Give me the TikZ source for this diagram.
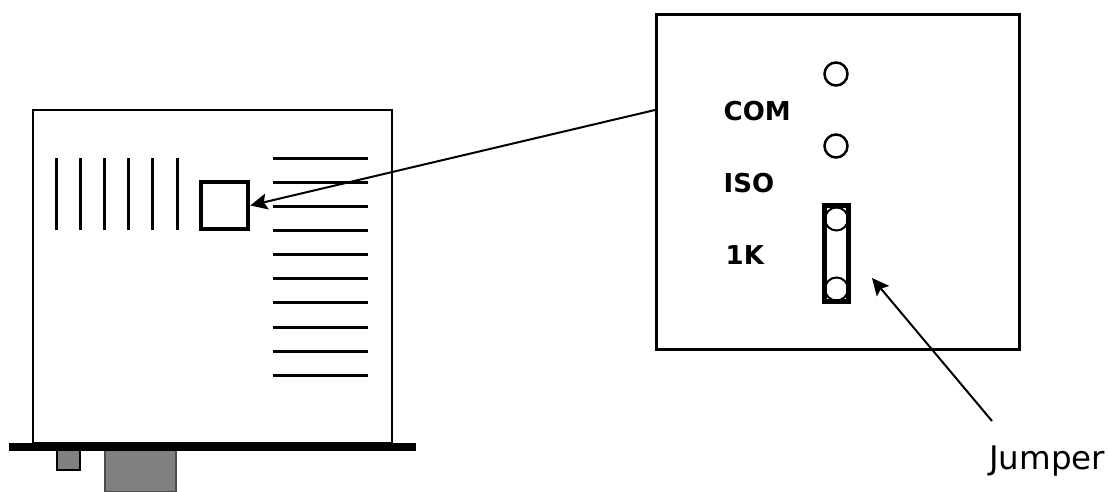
\documentclass[tikz,border=0pt]{standalone}
\usepackage{fontspec}
\setmainfont{DejaVu Sans}
\usetikzlibrary{arrows.meta}
\tikzset{
	box/.style={draw, line width=3pt, inner sep=0pt, minimum width=#1},
	part/.style={draw=black!70, line width=1.5pt, fill=black!50, inner sep=0pt},
	pin/.style={draw, circle, line width=2.5pt, inner sep=0pt, minimum size=23pt},
	link/.style={draw, circle, line width=2pt, inner sep=0pt, minimum size=23pt},
	label/.style={font=\bfseries\fontsize{26}{30}\selectfont, inner sep=0pt, anchor=base west},
	vent/.style={line width=3pt},
	pointer/.style={-{Stealth[length=17pt,width=16pt,inset=3pt]}, line width=2pt},
}
\begin{document}
\begin{tikzpicture}[x=1pt,y=-1pt]
	\useasboundingbox (0,0) rectangle (1109,491);

	% unit seen from above
	\node[box=359pt, minimum height=333pt, line width=2.4pt] (unit) at (212.5,276.5) {};
	\node[part, minimum width=71pt, minimum height=46pt] (bigport) at (140.5,469) {};
	\node[part, draw=black, minimum width=23pt, minimum height=24pt] (smallport) at (68.5,458) {};
	\node[fill=black, inner sep=0pt, minimum width=407pt, minimum height=8pt] (base) at (212.5,447) {};

	\foreach \x in {56,80,104,128,152,177}
		\draw[vent] (\x,158) -- (\x,230);
	\foreach \y in {158,182,206,230,254,278,302,327,351,375}
		\draw[vent] (273,\y) -- (368,\y);

	\node[draw, line width=4.5pt, inner sep=0pt, minimum size=47pt] (switch) at (224.5,205.5) {};

	% enlarged view
	\node[box=363pt, minimum height=335pt] (detail) at (838,181.5) {};
	\node[pin] (pintop) at (836,74) {};
	\node[pin] (pinmid) at (836,146) {};
	\node[link] (jumptop) at (836.5,219) {};
	\node[link] (jumpbot) at (836.5,289) {};
	\node[draw, line width=5pt, inner sep=0pt, minimum width=24pt, minimum height=96pt] (jumper) at (836.5,253.5) {};

	\node[label] (com) at (723.5,120) {COM};
	\node[label] (iso) at (723.5,192) {ISO};
	\node[label] (onek) at (725.5,264) {1K};
	\node[font=\fontsize{32.5}{38}\selectfont, inner sep=0pt, anchor=base west] (jumpertext) at (989,469.5) {Jumper};

	\coordinate (detailtap) at (detail.west |- 0,110);
	\coordinate (jumpertail) at (992,421);
	\coordinate (jumperhead) at (872,278);
	\draw[pointer] (detailtap) -- (switch.east);
	\draw[pointer] (jumpertail) -- (jumperhead);
\end{tikzpicture}
\end{document}
